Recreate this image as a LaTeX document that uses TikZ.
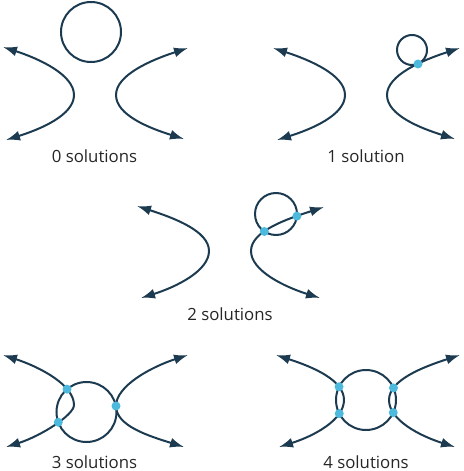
\documentclass[tikz,border=0pt]{standalone}
\usepackage{fontspec}
\setmainfont{Open Sans}
\usetikzlibrary{arrows.meta,intersections}

\definecolor{navy}{HTML}{1C3A50}
\definecolor{cyandot}{HTML}{4DB9DC}
\definecolor{inkgray}{HTML}{262626}

\begin{document}
\begin{tikzpicture}[x=1pt,y=-1pt,
	curve/.style={draw=navy, line width=2pt},
	branch/.style={curve, {Latex[length=14pt,width=10pt]}-{Latex[length=14pt,width=10pt]}},
	dot/.style={fill=cyandot},
	caption/.style={text=inkgray, font=\fontsize{16.8}{20}\selectfont, inner sep=0pt}]
	
	\useasboundingbox (0,0) rectangle (463,471);
	
	% Zero solutions
	\draw[curve] (91,32) circle[radius=30];
	\draw[branch] (3,47) .. controls (40,59) and (74,75) .. (74,95)
		.. controls (74,115) and (41,129) .. (6,140);
	\draw[branch] (188,48) .. controls (151,60) and (116,75) .. (116,95)
		.. controls (116,115) and (149,128) .. (184,139);
	\node[caption] (lblZero) at (94.5,156) {0 solutions};
	
	% One solution
	\coordinate (touchOne) at (418,64);
	\draw[branch] (273,48) .. controls (310,60) and (345,75) .. (345,95)
		.. controls (345,115) and (312,129) .. (277,140);
	\draw[branch] (455,139) .. controls (420,128) and (387,115) .. (387,95)
		.. controls (387,75) and (423,60) .. (460,48);
	\draw[curve] (412,50) circle[radius=15];
	\fill[dot] (touchOne) circle[radius=4.5];
	\node[caption] (lblOne) at (366,156) {1 solution};
	
	% Two solutions
	\draw[branch] (137,206) .. controls (174,218) and (209,231) .. (209,251)
		.. controls (209,271) and (176,287) .. (141,298);
	\draw[branch, name path=hypTwo] (320,298) .. controls (285,287) and (251,271) .. (251,251)
		.. controls (251,231) and (287,219) .. (324,207);
	\draw[curve, name path=ringTwo] (276,214) circle[radius=21];
	\fill[dot, name intersections={of=hypTwo and ringTwo}]
		(intersection-1) circle[radius=4.5] (intersection-2) circle[radius=4.5];
	\node[caption] (lblTwo) at (230,314) {2 solutions};
	
	% Three solutions
	\coordinate (touchThree) at (116,406);
	\draw[curve, name path=ringThree] (86.5,412) circle[radius=30];
	\draw[branch, name path=hypThree] (3,355) .. controls (40,367) and (74,385) .. (74,405)
		.. controls (74,415) and (41,436) .. (6,447);
	\draw[branch] (188,355) .. controls (151,367) and (116,386) .. (touchThree)
		.. controls (116,426) and (149,436) .. (184,447);
	\fill[dot, name intersections={of=hypThree and ringThree}]
		(intersection-1) circle[radius=4.5] (intersection-2) circle[radius=4.5];
	\fill[dot] (touchThree) circle[radius=4.5];
	\node[caption] (lblThree) at (94.5,462) {3 solutions};
	
	% Four solutions
	\draw[curve, name path=ringFour] (366,400) circle[radius=30];
	\draw[branch, name path=hypFourL] (276,355) .. controls (313,367) and (344,380) .. (344,400)
		.. controls (344,420) and (314,436) .. (279,447);
	\draw[branch, name path=hypFourR] (460,355) .. controls (423,367) and (389,380) .. (389,400)
		.. controls (389,420) and (420,436) .. (455,447);
	\fill[dot, name intersections={of=hypFourL and ringFour}]
		(intersection-1) circle[radius=4.5] (intersection-2) circle[radius=4.5];
	\fill[dot, name intersections={of=hypFourR and ringFour}]
		(intersection-1) circle[radius=4.5] (intersection-2) circle[radius=4.5];
	\node[caption] (lblFour) at (366,462) {4 solutions};
	
\end{tikzpicture}
\end{document}
